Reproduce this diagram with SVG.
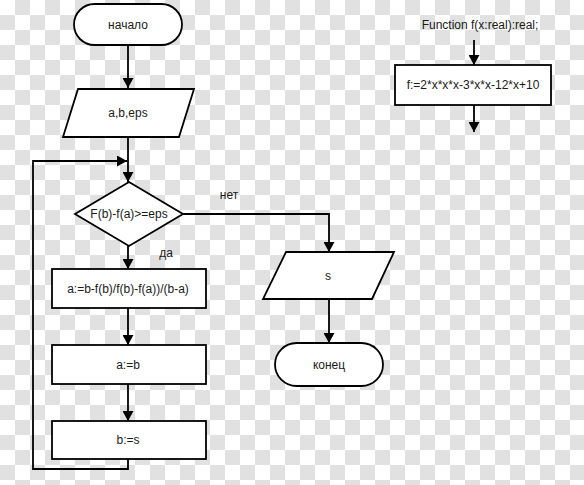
<svg xmlns="http://www.w3.org/2000/svg" width="584" height="485" viewBox="0 0 584 485">
<defs>
<pattern id="checker" width="30" height="30" patternUnits="userSpaceOnUse">
<rect width="30" height="30" fill="#ffffff"/>
<rect x="15" y="0" width="15" height="15" fill="#e1e1e1"/>
<rect x="0" y="15" width="15" height="15" fill="#e1e1e1"/>
</pattern>
<marker id="arr" viewBox="0 0 10 11" refX="10" refY="5.5" markerWidth="10" markerHeight="11" markerUnits="userSpaceOnUse" orient="auto">
<path d="M0,0 L10,5.5 L0,11 Z" fill="#000"/>
</marker>
<style>
.shape{fill:#fff;stroke:#000;stroke-width:1.8}
.conn{fill:none;stroke:#000;stroke-width:1.8}
text{font-family:"Liberation Sans",Arial,sans-serif;font-size:12px;fill:#1a1a1a;text-anchor:middle;dominant-baseline:central}
</style>
</defs>
<rect width="584" height="485" fill="url(#checker)"/>
<g id="connectors">
<path class="conn" d="M128,45 V88" marker-end="url(#arr)"/>
<path class="conn" d="M128,137 V182" marker-end="url(#arr)"/>
<path class="conn" d="M128,459 V469 H33 V161 H127" marker-end="url(#arr)"/>
<path class="conn" d="M128,246 V269" marker-end="url(#arr)"/>
<path class="conn" d="M128,308 V345" marker-end="url(#arr)"/>
<path class="conn" d="M128,384 V421" marker-end="url(#arr)"/>
<path class="conn" d="M183,214 H329 V252" marker-end="url(#arr)"/>
<path class="conn" d="M329,299 V343" marker-end="url(#arr)"/>
<path class="conn" d="M474,40 V65" marker-end="url(#arr)"/>
<path class="conn" d="M474,105 V132" marker-end="url(#arr)"/>
<text x="229" y="195">нет</text>
<text x="166" y="253">да</text>
</g>
<g id="start">
<rect class="shape" x="74" y="4" width="108" height="41" rx="20.5"/>
<text x="128" y="25">начало</text>
</g>
<g id="input">
<polygon class="shape" points="78,89 194,89 179,137 63,137"/>
<text x="128" y="113">a,b,eps</text>
</g>
<g id="decision">
<polygon class="shape" points="129,182 183,214 129,246 75,214"/>
<text x="129" y="214">F(b)-f(a)&gt;=eps</text>
</g>
<g id="calc">
<rect class="shape" x="52" y="269" width="154" height="39"/>
<text x="128" y="289">a:=b-f(b)/f(b)-f(a))/(b-a)</text>
</g>
<g id="assign-a">
<rect class="shape" x="52" y="345" width="154" height="39"/>
<text x="128" y="365">a:=b</text>
</g>
<g id="assign-b">
<rect class="shape" x="52" y="421" width="154" height="38"/>
<text x="128" y="440">b:=s</text>
</g>
<g id="output">
<polygon class="shape" points="286,252 394,252 372,299 263,299"/>
<text x="328" y="276">s</text>
</g>
<g id="end">
<rect class="shape" x="275" y="343" width="108" height="43" rx="21.5"/>
<text x="329" y="365">конец</text>
</g>
<g id="function">
<text x="480" y="25">Function f(x:real):real;</text>
<rect class="shape" x="395" y="65" width="156" height="40"/>
<text x="473" y="85">f:=2*x*x*x-3*x*x-12*x+10</text>
</g>
</svg>
